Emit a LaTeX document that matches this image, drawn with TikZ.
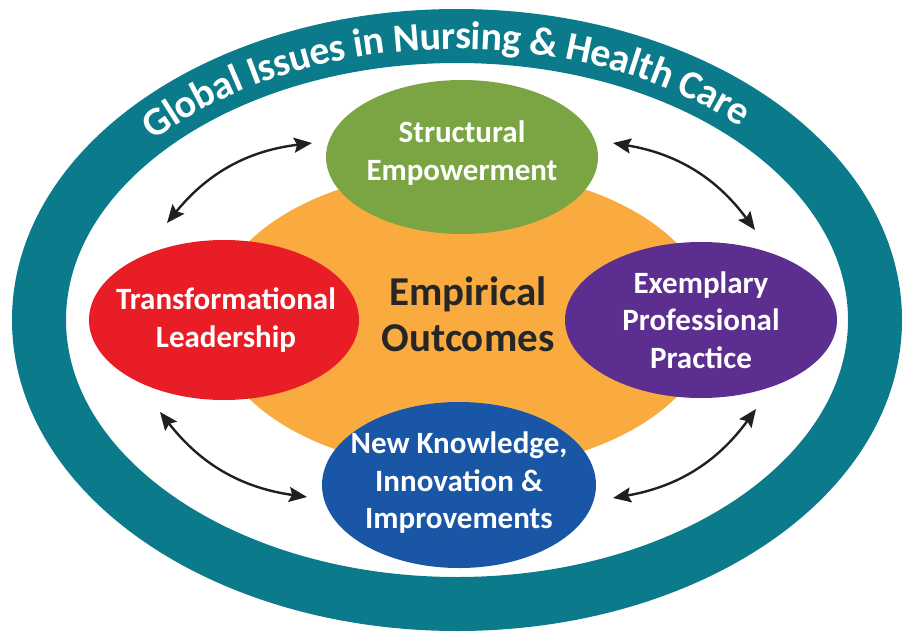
\documentclass[tikz,border=0pt]{standalone}
\usepackage{fontspec}
\setmainfont{Carlito}
\usetikzlibrary{shapes.geometric, arrows.meta, decorations.text}

\definecolor{ringteal}{RGB}{11,122,138}
\definecolor{segreen}{RGB}{123,164,67}
\definecolor{eoorange}{RGB}{249,171,64}
\definecolor{tlred}{RGB}{233,29,37}
\definecolor{epppurple}{RGB}{91,46,143}
\definecolor{nkiblue}{RGB}{26,86,166}
\definecolor{arrowdark}{RGB}{35,31,32}

\newcommand{\fsz}[2]{\fontsize{#1}{#2}\selectfont\bfseries}

\begin{document}
\begin{tikzpicture}[
        x=1pt, y=-1pt,
        blob/.style={ellipse, inner sep=0, outer sep=0},
        blobtext/.style={text=white, align=center, font=\fsz{31}{37.5}},
        link/.style={arrowdark, line width=2.4pt,
            {Stealth[length=18pt, width=15pt, inset=3pt]}-{Stealth[length=18pt, width=15pt, inset=3pt]}},
    ]
    \useasboundingbox (0,0) rectangle (904,634);

    % Define outer ring.
    \coordinate (mid) at (457,320);
    \draw[ringteal, line width=54pt] (mid) ellipse [x radius=418, y radius=284];
    \path[decorate, decoration={text along path, text align=center, raise=-13pt,
            text color=white,
            text={|\fsz{40}{40}|Global Issues in Nursing {\&} Health Care}}]
        (mid) ++(177.5:418 and 284)
        arc[start angle=177.5, end angle=357.5, x radius=418, y radius=284];

    % Define the core and the four forces.
    \node[blob, fill=eoorange, minimum width=500, minimum height=300] (eo) at (462,320) {};
    \node[text=black!85, align=center, font=\fsz{41}{46}] (eo-lbl) at ([shift={(6,-6)}]eo.center) {Empirical\\Outcomes};

    \node[blob, fill=segreen, minimum width=272, minimum height=154,
        label={[blobtext, yshift=4pt]center:Structural\\Empowerment}] (se) at (462,157) {};
    \node[blob, fill=tlred, minimum width=270, minimum height=160,
        label={[blobtext, xshift=2pt]center:Transformational\\Leadership}] (tl) at (224,320) {};
    \node[blob, fill=epppurple, minimum width=272, minimum height=156,
        label={[blobtext]center:Exemplary\\Professional\\Practice}] (epp) at (701,320) {};
    \node[blob, fill=nkiblue, minimum width=274, minimum height=166,
        label={[blobtext, yshift=2pt]center:New Knowledge,\\Innovation \&\\Improvements}] (nki) at (459,485) {};

    % Define arrow ends.
    \coordinate (tl-a) at ([shift={(-57,-17)}]tl.north);
    \coordinate (tl-b) at ([shift={(-14,-14)}]se.west);
    \coordinate (tr-a) at ([shift={(15,-14)}]se.east);
    \coordinate (tr-b) at ([shift={(54,-12)}]epp.north);
    \coordinate (bl-a) at ([shift={(-64,12)}]tl.south);
    \coordinate (bl-b) at ([shift={(-15,12)}]nki.west);
    \coordinate (br-a) at ([shift={(55,11)}]epp.south);
    \coordinate (br-b) at ([shift={(17,13)}]nki.east);

    \draw[link] (tl-a) to[bend left=22] (tl-b);
    \draw[link] (tr-a) to[bend left=22] (tr-b);
    \draw[link] (bl-a) to[bend right=22] (bl-b);
    \draw[link] (br-b) to[bend right=22] (br-a);
\end{tikzpicture}
\end{document}
